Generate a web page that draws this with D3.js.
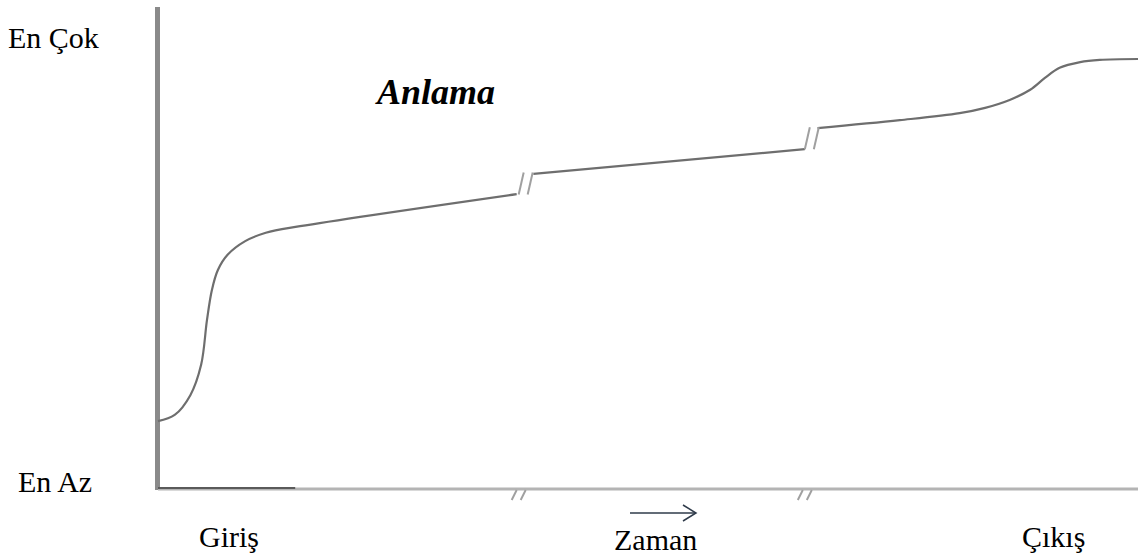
<!DOCTYPE html>
<html>
<head>
<meta charset="utf-8">
<script src="https://cdn.jsdelivr.net/npm/d3@7"></script>
<style>
  body { margin: 0; background: #fff; font-family: "Liberation Serif", "Times New Roman", serif; }
  svg text { font-family: "Liberation Serif", "Times New Roman", serif; }
  .preload { position: absolute; left: 0; top: 0; color: #fff; font-size: 2px; }
</style>
</head>
<body>
<div class="preload">En Çok <b><i>Anlama</i></b></div>
<script>
var width = 1138, height = 555;

// curve pieces, x = time (0-100), y = understanding (0-100)
var seg1 = [[0, 15.2], [1.7, 16.6], [3.3, 21.1], [4.4, 28], [5.0, 38.2], [5.5, 45],
            [6.1, 49.5], [7.1, 53], [8.9, 56.1], [11, 58], [14.5, 59.5], [36.6, 66.8]];
var seg2 = [[38.3, 71.4], [66.0, 77.0]];
var seg3 = [[67.3, 81.8], [75.7, 83.6], [81.8, 85.2], [84.4, 86.4], [86.9, 88.2], [89.0, 90.5],
            [90.5, 93.2], [92.0, 95.5], [94.1, 96.8], [96.1, 97.3], [100, 97.5]];
// where time is broken
var breaks = [36.6, 65.9];

var yLabels = ["En Çok", "En Az"];
var xLabels = ["Giriş", "Zaman", "Çıkış"];
var title = "Anlama";

var x = d3.scaleLinear().domain([0, 100]).range([158, 1138]);
var y = d3.scaleLinear().domain([0, 100]).range([488, 48]);

var svg = d3.select("body").append("svg")
    .style("position", "absolute").style("left", 0).style("top", 0)
    .attr("width", width)
    .attr("height", height);

// axes
svg.append("line")
    .attr("x1", 157.5).attr("x2", 157.5)
    .attr("y1", 7).attr("y2", 490)
    .attr("stroke", "#8a8a8a").attr("stroke-width", 5);
svg.append("line")
    .attr("x1", 158).attr("x2", 1138)
    .attr("y1", 489).attr("y2", 489)
    .attr("stroke", "#b4b4b4").attr("stroke-width", 3);
svg.append("line")
    .attr("x1", 158).attr("x2", x(14))
    .attr("y1", 488).attr("y2", 488)
    .attr("stroke", "#5a5a5a").attr("stroke-width", 2);

// the curve
var line = d3.line()
    .x(function(d) { return x(d[0]); })
    .y(function(d) { return y(d[1]); })
    .curve(d3.curveCatmullRom.alpha(0.5));

[seg1, seg2, seg3].forEach(function(s) {
  svg.append("path")
      .datum(s)
      .attr("d", line)
      .attr("fill", "none")
      .attr("stroke", "#6e6e6e")
      .attr("stroke-width", 2.2);
});

// break marks on curve and axis
function breakMark(px, py, h) {
  [0, 9].forEach(function(off) {
    svg.append("line")
        .attr("x1", px + off).attr("y1", py + h / 2)
        .attr("x2", px + off + 5).attr("y2", py - h / 2)
        .attr("stroke", "#a0a0a0")
        .attr("stroke-width", 2);
  });
}
breakMark(x(breaks[0]) + 2, y(69.2), 22);
breakMark(x(breaks[1]) + 1, y(79.5), 22);
breakMark(x(breaks[0]) - 5, 495, 10);
breakMark(x(breaks[1]) - 6, 495, 10);

// labels
function label(tx, ty, s, size) {
  return svg.append("text").attr("x", tx).attr("y", ty)
      .attr("font-size", size)
      .attr("fill", "#000")
      .text(s);
}
label(8, 48, yLabels[0], 30);
label(18, 492, yLabels[1], 30);
label(199, 547, xLabels[0], 30);
label(614, 550, xLabels[1], 30);
label(1022, 547, xLabels[2], 30);
label(377, 104, title, 36)
    .attr("font-weight", "bold").attr("font-style", "italic");

// time arrow
svg.append("line")
    .attr("x1", 630).attr("x2", 695).attr("y1", 513).attr("y2", 513)
    .attr("stroke", "#2f3b4a").attr("stroke-width", 1.5);
svg.append("path")
    .attr("d", "M683,505 L696,513 L683,521")
    .attr("fill", "none").attr("stroke", "#2f3b4a").attr("stroke-width", 1.5);
</script>
</body>
</html>
